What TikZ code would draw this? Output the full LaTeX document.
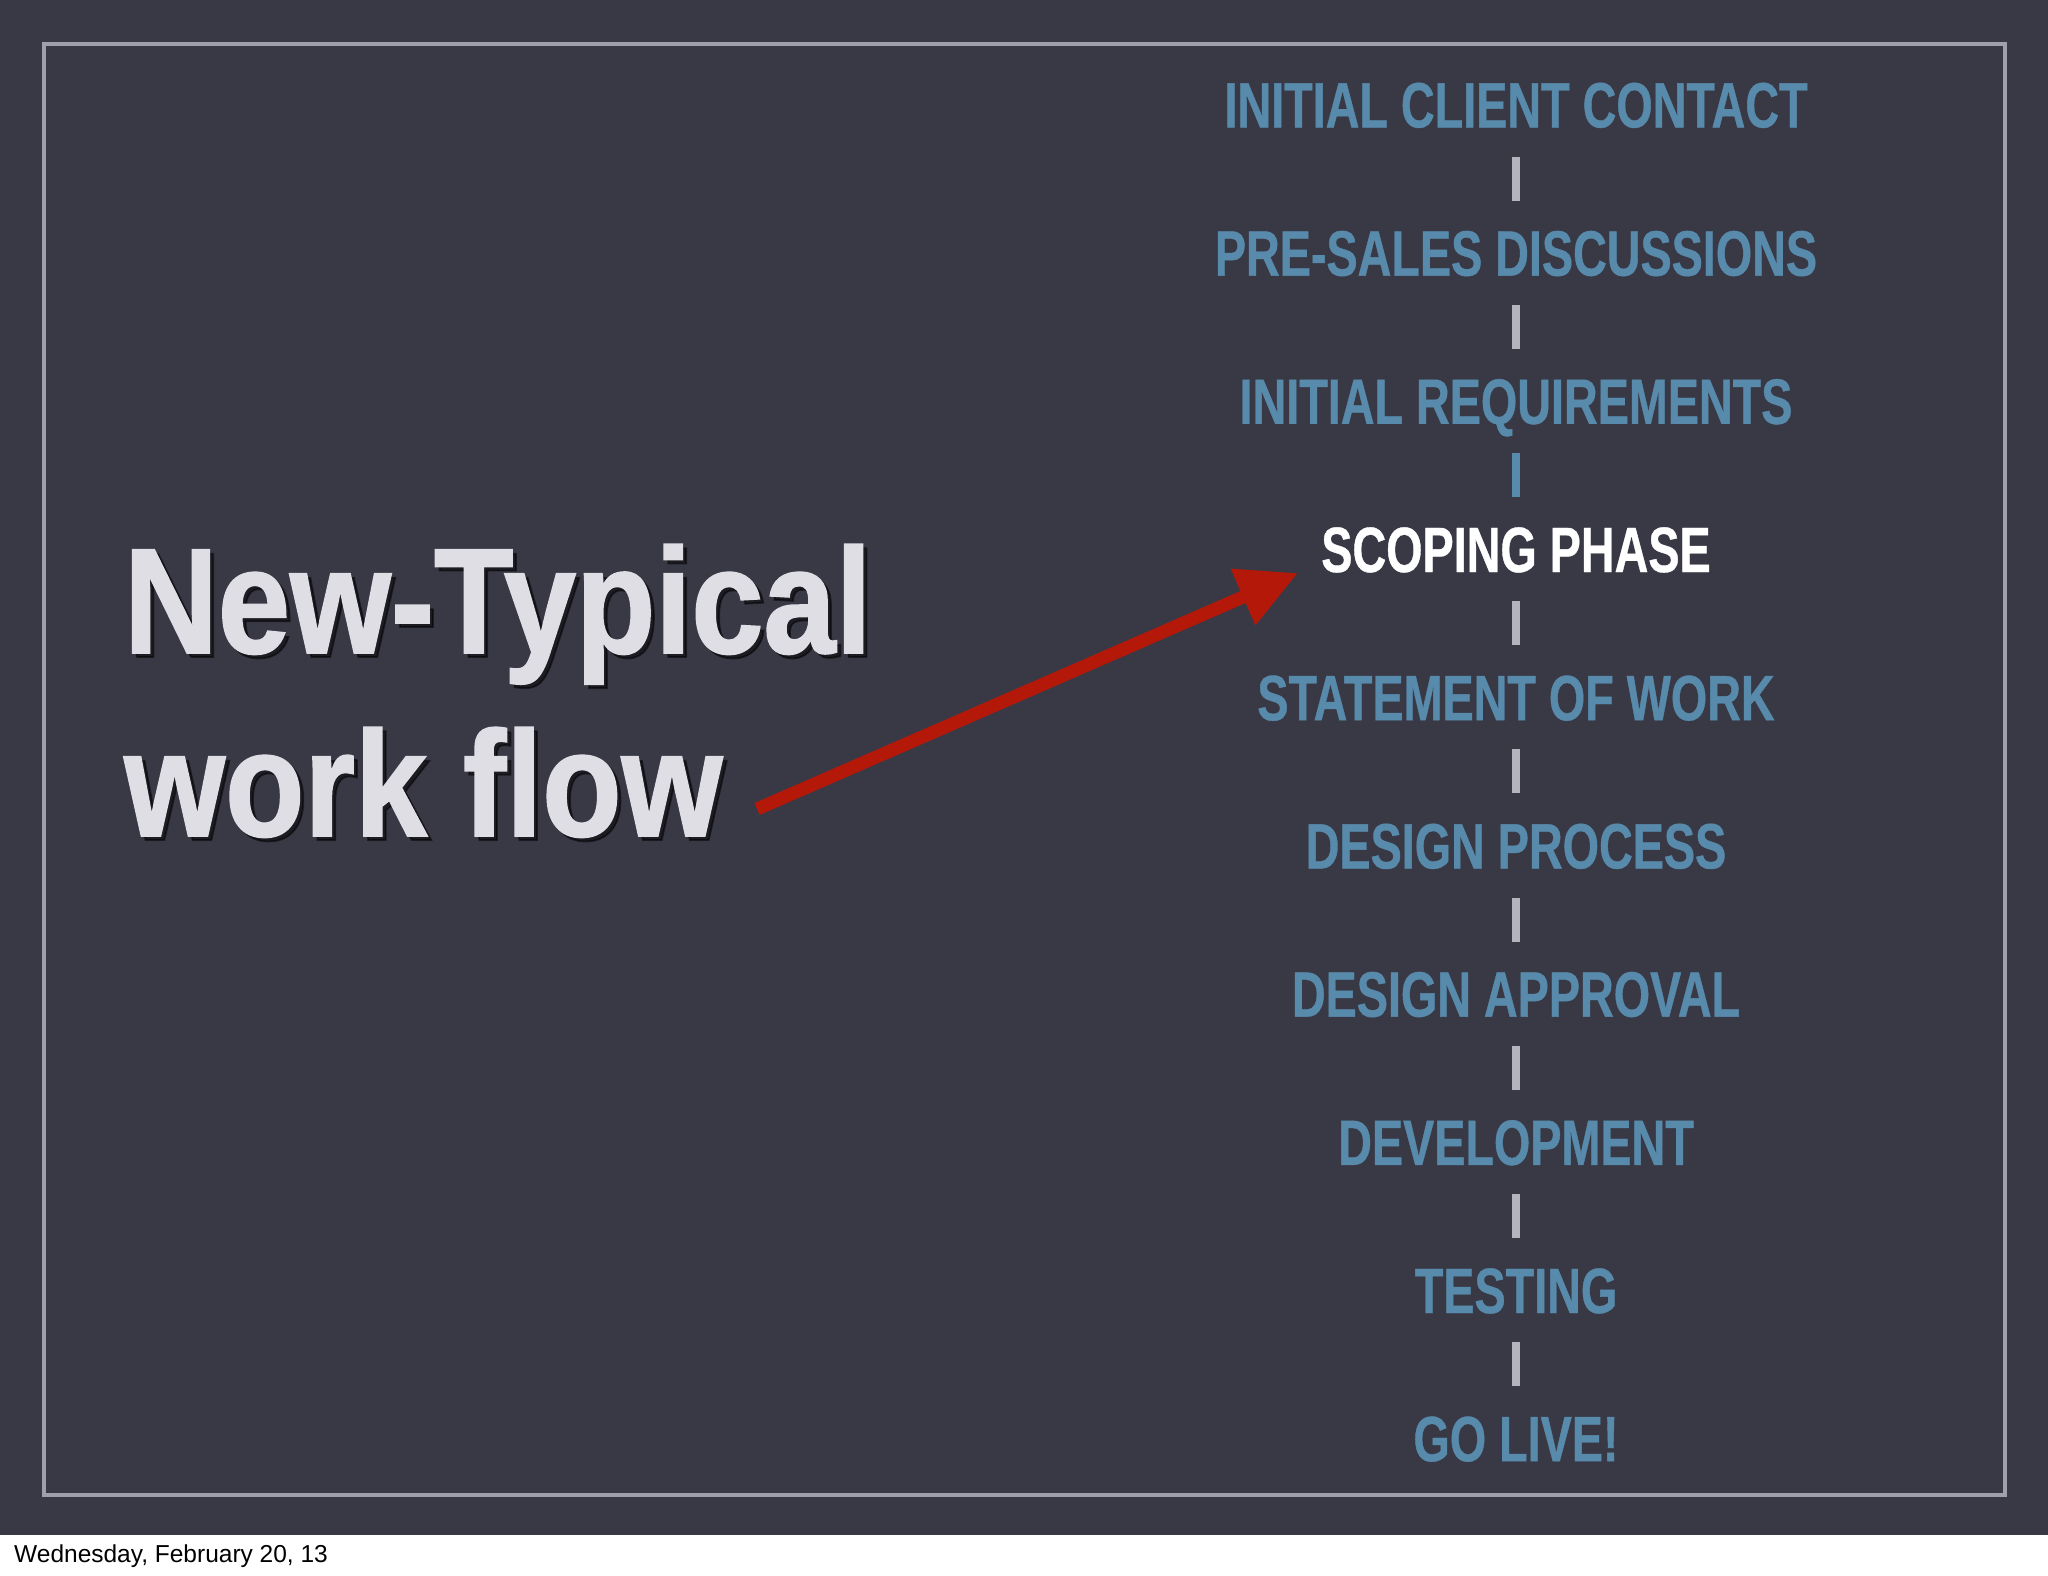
\documentclass[tikz,border=0pt]{standalone}
\usepackage{fontspec}
\setmainfont{Liberation Sans}
\newfontfamily\listfont{Liberation Sans}[FakeStretch=0.73, FakeBold=0.6]
\newfontfamily\titlefont{Liberation Sans}[FakeStretch=0.865, FakeBold=1.2]
\usetikzlibrary{arrows.meta}
\definecolor{bgc}{RGB}{57,57,70}
\definecolor{framec}{RGB}{160,160,172}
\definecolor{stepblue}{RGB}{88,138,172}
\definecolor{barc}{RGB}{180,180,188}
\definecolor{titlec}{RGB}{222,222,228}
\definecolor{arrowred}{RGB}{180,24,8}
\begin{document}
\begin{tikzpicture}[x=1pt,y=-1pt,
  stepnode/.style={font=\listfont\bfseries\fontsize{64}{64}\selectfont, text=stepblue,
    inner sep=0pt, text height=45.8pt, text depth=0pt, anchor=center},
  activenode/.style={stepnode, text=white},
  barline/.style={draw=barc, line width=8pt, shorten <=29pt, shorten >=29pt},
  bluebar/.style={barline, draw=stepblue},
  titletext/.style={font=\titlefont\bfseries\fontsize{150}{150}\selectfont, text=titlec,
    inner sep=0pt, anchor=base west},
  titleshadow/.style={titletext, text=black, text opacity=0.5},
  redarrow/.style={draw=arrowred, line width=13pt, -{Triangle[length=60pt,width=58pt]}}
]
\useasboundingbox (0,0) rectangle (2048,1576);
\fill[white] (0,0) rectangle (2048,1576);
\fill[bgc] (0,0) rectangle (2048,1535);
\draw[framec, line width=4pt] (44,44) rectangle (2005,1495);

% right column
\node[stepnode] (s1) at (1516,104.5) {INITIAL CLIENT CONTACT};
\node[stepnode] (s2) at (1516,252.7) {PRE-SALES DISCUSSIONS};
\node[stepnode] (s3) at (1516,400.9) {INITIAL REQUIREMENTS};
\node[activenode] (s4) at (1516,549.1) {SCOPING PHASE};
\node[stepnode] (s5) at (1516,697.3) {STATEMENT OF WORK};
\node[stepnode] (s6) at (1516,845.5) {DESIGN PROCESS};
\node[stepnode] (s7) at (1516,993.7) {DESIGN APPROVAL};
\node[stepnode] (s8) at (1516,1141.9) {DEVELOPMENT};
\node[stepnode] (s9) at (1516,1290.1) {TESTING};
\node[stepnode] (s10) at (1516,1438.3) {GO LIVE!};

\draw[barline] (s1.south) -- (s2.north);
\draw[barline] (s2.south) -- (s3.north);
\draw[bluebar] (s3.south) -- (s4.north);
\draw[barline] (s4.south) -- (s5.north);
\draw[barline] (s5.south) -- (s6.north);
\draw[barline] (s6.south) -- (s7.north);
\draw[barline] (s7.south) -- (s8.north);
\draw[barline] (s8.south) -- (s9.north);
\draw[barline] (s9.south) -- (s10.north);

% title
\node[titleshadow] (t1s) at (128,657) {New-Typical};
\node[titleshadow] (t2s) at (128,840) {work flow};
\node[titletext] (t1) at (124,653) {New-Typical};
\node[titletext] (t2) at (124,836) {work flow};

% arrow
\coordinate (atail) at (757,809);
\coordinate (atip) at (1298,573);
\draw[redarrow] (atail) -- (atip);

% footer
\node[anchor=base west, inner sep=0pt, font=\fontsize{24.5}{24.5}\selectfont, text=black] (date) at (14,1562) {Wednesday, February 20, 13};
\end{tikzpicture}
\end{document}
